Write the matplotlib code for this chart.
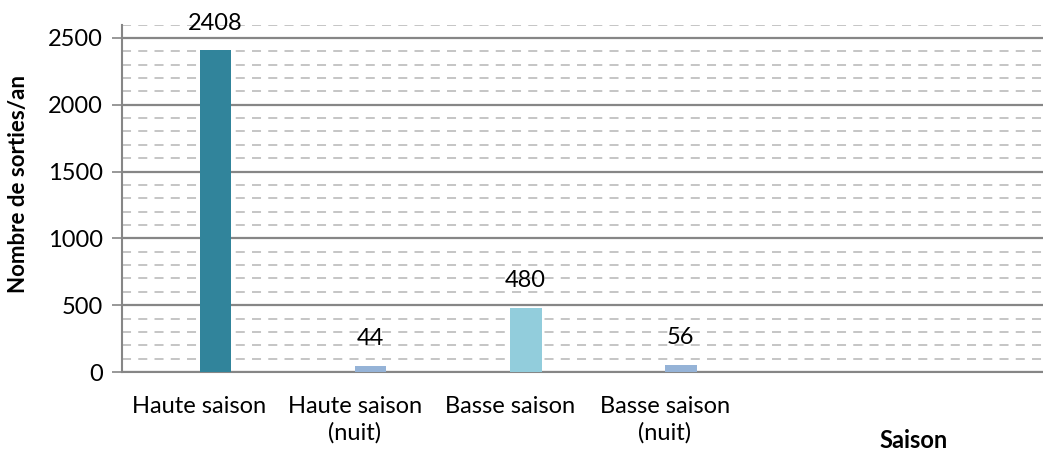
import numpy as np
import matplotlib.pyplot as plt
from matplotlib.ticker import MultipleLocator

# Data
categories = ["Haute saison", "Haute saison\n(nuit)", "Basse saison", "Basse saison\n(nuit)"]
values = [2408, 44, 480, 56]
bar_colors = ["#31849B", "#95B3D7", "#92CDDC", "#95B3D7"]

plt.rcParams['font.family'] = ['Lato', 'DejaVu Sans']

fig = plt.figure(figsize=(10.43, 4.54), dpi=100)
ax = fig.add_axes([0.117, 0.1806, 0.883, 0.7652])

x = np.arange(len(categories))
offset = 0.103
bars = ax.bar(x + offset, values, width=0.205, color=bar_colors, zorder=3)

for xi, v in zip(x, values):
    ax.annotate(str(v), (xi + offset, v), xytext=(0, 12), textcoords='offset points',
                ha='center', va='bottom', fontsize=17, color='black', zorder=4)

ax.set_xlim(-0.5, 5.44)
ax.set_ylim(0, 2600)
ax.yaxis.set_major_locator(MultipleLocator(500))
ax.yaxis.set_minor_locator(MultipleLocator(100))
ax.grid(which='major', axis='y', color='#868686', linewidth=1.6, zorder=1)
ax.grid(which='minor', axis='y', color='#C0C0C0', linewidth=1.3, linestyle=(0, (5, 4)), zorder=0)

ax.set_xticks(x)
ax.set_xticklabels(categories, fontsize=17, linespacing=1.3)
ax.tick_params(axis='x', length=0, pad=17)
ax.tick_params(axis='y', which='major', length=7, width=1.2, color='#868686', labelsize=17, pad=7)
ax.tick_params(axis='y', which='minor', length=0)

for side in ['top', 'right']:
    ax.spines[side].set_visible(False)
ax.spines['left'].set_color('#868686')
ax.spines['left'].set_linewidth(1.5)
ax.spines['bottom'].set_color('#868686')
ax.spines['bottom'].set_linewidth(1.5)

fig.text(19 / 1043, 1 - 184 / 454, "Nombre de sorties/an", rotation=90, ha='center', va='center',
         fontsize=16, fontweight='bold')
fig.text(914 / 1043, 1 - 440 / 454, "Saison", ha='center', va='center', fontsize=17, fontweight='bold')

fig.savefig("out.png", dpi=100)
